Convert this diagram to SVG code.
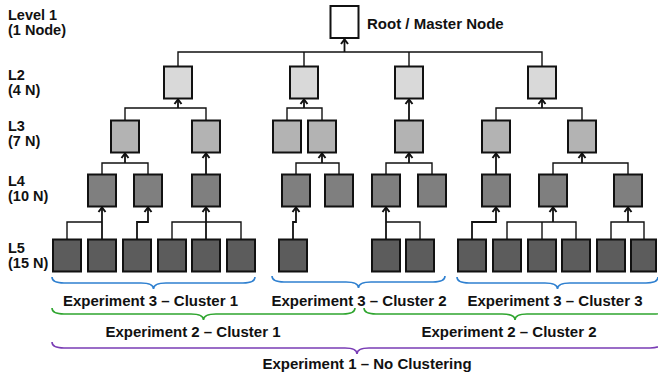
<svg xmlns="http://www.w3.org/2000/svg" width="658" height="376" viewBox="0 0 658 376">
  <style>
    text { font-family: "Liberation Sans", Arial, Helvetica, sans-serif; font-weight: bold; font-size: 15px; fill: #111; }
    .lvl { font-size: 14.5px; }
    .box { stroke: #111; stroke-width: 2; }
    .root { fill: #ffffff; }
    .l2 { fill: #d9d9d9; }
    .l3 { fill: #b3b3b3; }
    .l4 { fill: #7f7f7f; }
    .l5 { fill: #5c5c5c; }
    .wire { fill: none; stroke: #111; stroke-width: 1.4; }
    .up { fill: none; stroke: #111; stroke-width: 1.8; marker-end: url(#chev); }
    .brace { fill: none; stroke-width: 1.6; }
    .b3 { stroke: #2f80d0; }
    .b2 { stroke: #2fa52f; }
    .b1 { stroke: #7a3db5; }
  </style>
  <defs>
    <marker id="chev" markerUnits="userSpaceOnUse" markerWidth="10" markerHeight="10" refX="5" refY="3.5" orient="auto" overflow="visible">
      <path d="M0.5,0 L5,3.5 L0.5,7" fill="none" stroke="#111" stroke-width="2"/>
    </marker>
  </defs>

  <!-- level captions -->
  <g id="captions">
    <text class="lvl" x="8" y="20">Level 1</text>
    <text class="lvl" x="8" y="35">(1 Node)</text>
    <text class="lvl" x="8" y="80">L2</text>
    <text class="lvl" x="8" y="95">(4 N)</text>
    <text class="lvl" x="8" y="131">L3</text>
    <text class="lvl" x="8" y="146">(7 N)</text>
    <text class="lvl" x="8" y="186">L4</text>
    <text class="lvl" x="8" y="201">(10 N)</text>
    <text class="lvl" x="8" y="253">L5</text>
    <text class="lvl" x="8" y="268">(15 N)</text>
  </g>

  <!-- connectors -->
  <g id="connectors">
    <!-- root bus -->
    <path class="wire" d="M178,66 V52 H542 V66 M304,52 V66 M409,52 V66"/>
    <path class="up" d="M344.5,52 V39.5"/>
    <!-- L2 to L3 -->
    <path class="wire" d="M125,120 V108 H206 V120"/>
    <path class="up" d="M178,108 V99.5"/>
    <path class="wire" d="M287,120 V108 H322 V120"/>
    <path class="up" d="M304,108 V99.5"/>
    <path class="up" d="M409,120 V99.5"/>
    <path class="wire" d="M496,120 V108 H582 V120"/>
    <path class="up" d="M542,108 V99.5"/>
    <!-- L3 to L4 -->
    <path class="wire" d="M102,174 V163 H148 V174"/>
    <path class="up" d="M125,163 V153.5"/>
    <path class="up" d="M206,174 V153.5"/>
    <path class="wire" d="M296,174 V163 H339 V174"/>
    <path class="up" d="M322,163 V153.5"/>
    <path class="wire" d="M386,174 V163 H432 V174"/>
    <path class="up" d="M409,163 V153.5"/>
    <path class="up" d="M496,174 V153.5"/>
    <path class="wire" d="M553,174 V163 H628 V174"/>
    <path class="up" d="M582,163 V153.5"/>
    <!-- L4 to L5 -->
    <path class="wire" d="M67,239 V222 H102"/>
    <path class="up" d="M102,239 V207.5"/>
    <path class="up" d="M137,239 V222 H148 V207.5"/>
    <path class="wire" d="M172,239 V222 H241 V239"/>
    <path class="up" d="M206,239 V207.5"/>
    <path class="up" d="M293,239 V222 H296 V207.5"/>
    <path class="wire" d="M420,239 V222 H386"/>
    <path class="up" d="M386,239 V207.5"/>
    <path class="up" d="M472,239 V222 H496 V207.5"/>
    <path class="wire" d="M507,239 V222 H576 V239 M542,222 V239"/>
    <path class="up" d="M553,222 V207.5"/>
    <path class="wire" d="M611,239 V222 H644 V239"/>
    <path class="up" d="M628,222 V207.5"/>
  </g>

  <!-- level 1 -->
  <g id="root">
    <rect class="box root" x="330.5" y="6" width="28" height="32"/>
    <text x="367" y="29">Root / Master Node</text>
  </g>

  <!-- level 2 -->
  <g id="l2-1"><rect class="box l2" x="164" y="66.5" width="28" height="32"/></g>
  <g id="l2-2"><rect class="box l2" x="290" y="66.5" width="28" height="32"/></g>
  <g id="l2-3"><rect class="box l2" x="395" y="66.5" width="28" height="32"/></g>
  <g id="l2-4"><rect class="box l2" x="528" y="66.5" width="28" height="32"/></g>

  <!-- level 3 -->
  <g id="l3-1"><rect class="box l3" x="111" y="120.5" width="28" height="32"/></g>
  <g id="l3-2"><rect class="box l3" x="192" y="120.5" width="28" height="32"/></g>
  <g id="l3-3"><rect class="box l3" x="273" y="120.5" width="28" height="32"/></g>
  <g id="l3-4"><rect class="box l3" x="308" y="120.5" width="28" height="32"/></g>
  <g id="l3-5"><rect class="box l3" x="395" y="120.5" width="28" height="32"/></g>
  <g id="l3-6"><rect class="box l3" x="482" y="120.5" width="28" height="32"/></g>
  <g id="l3-7"><rect class="box l3" x="568" y="120.5" width="28" height="32"/></g>

  <!-- level 4 -->
  <g id="l4-1"><rect class="box l4" x="88" y="174.5" width="28" height="32"/></g>
  <g id="l4-2"><rect class="box l4" x="134" y="174.5" width="28" height="32"/></g>
  <g id="l4-3"><rect class="box l4" x="192" y="174.5" width="28" height="32"/></g>
  <g id="l4-4"><rect class="box l4" x="282" y="174.5" width="28" height="32"/></g>
  <g id="l4-5"><rect class="box l4" x="325" y="174.5" width="28" height="32"/></g>
  <g id="l4-6"><rect class="box l4" x="372" y="174.5" width="28" height="32"/></g>
  <g id="l4-7"><rect class="box l4" x="418" y="174.5" width="28" height="32"/></g>
  <g id="l4-8"><rect class="box l4" x="482" y="174.5" width="28" height="32"/></g>
  <g id="l4-9"><rect class="box l4" x="539" y="174.5" width="28" height="32"/></g>
  <g id="l4-10"><rect class="box l4" x="614" y="174.5" width="28" height="32"/></g>

  <!-- level 5 -->
  <g id="l5-1"><rect class="box l5" x="53" y="239.5" width="28" height="32"/></g>
  <g id="l5-2"><rect class="box l5" x="88" y="239.5" width="28" height="32"/></g>
  <g id="l5-3"><rect class="box l5" x="123" y="239.5" width="28" height="32"/></g>
  <g id="l5-4"><rect class="box l5" x="158" y="239.5" width="28" height="32"/></g>
  <g id="l5-5"><rect class="box l5" x="192" y="239.5" width="28" height="32"/></g>
  <g id="l5-6"><rect class="box l5" x="227" y="239.5" width="28" height="32"/></g>
  <g id="l5-7"><rect class="box l5" x="279" y="239.5" width="28" height="32"/></g>
  <g id="l5-8"><rect class="box l5" x="372" y="239.5" width="28" height="32"/></g>
  <g id="l5-9"><rect class="box l5" x="406" y="239.5" width="28" height="32"/></g>
  <g id="l5-10"><rect class="box l5" x="458" y="239.5" width="28" height="32"/></g>
  <g id="l5-11"><rect class="box l5" x="493" y="239.5" width="28" height="32"/></g>
  <g id="l5-12"><rect class="box l5" x="528" y="239.5" width="28" height="32"/></g>
  <g id="l5-13"><rect class="box l5" x="562" y="239.5" width="28" height="32"/></g>
  <g id="l5-14"><rect class="box l5" x="597" y="239.5" width="28" height="32"/></g>
  <g id="l5-15"><rect class="box l5" x="631" y="239.5" width="25" height="32"/></g>

  <!-- grouping braces with their captions -->
  <g id="exp3-c1">
    <path class="brace b3" d="M52,277 C52,281 55,283 64,283 H141 C149,283 153.5,285 153.5,289 C153.5,285 158,283 166,283 H243 C252,283 255,281 255,277"/>
    <text x="150.5" y="306" text-anchor="middle">Experiment 3 – Cluster 1</text>
  </g>
  <g id="exp3-c2">
    <path class="brace b3" d="M272,276 C272,280 275,282 284,282 H346 C354,282 358.5,284 358.5,288 C358.5,284 363,282 371,282 H433 C442,282 445,280 445,276"/>
    <text x="359" y="306" text-anchor="middle">Experiment 3 – Cluster 2</text>
  </g>
  <g id="exp3-c3">
    <path class="brace b3" d="M457,277 C457,281 460,283 469,283 H545 C553,283 557.5,285 557.5,289 C557.5,285 562,283 570,283 H646 C655,283 658,281 658,277"/>
    <text x="555" y="306" text-anchor="middle">Experiment 3 – Cluster 3</text>
  </g>
  <g id="exp2-c1">
    <path class="brace b2" d="M52,308 C52,312 55,314 64,314 H191 C199,314 203.5,316 203.5,320 C203.5,316 208,314 216,314 H343 C352,314 355,312 355,308"/>
    <text x="193" y="337" text-anchor="middle">Experiment 2 – Cluster 1</text>
  </g>
  <g id="exp2-c2">
    <path class="brace b2" d="M364,308 C364,312 367,314 376,314 H502 C510,314 515,316 515,320 C515,316 519,314 527,314 H654 C663,314 666,312 666,308"/>
    <text x="509" y="337" text-anchor="middle">Experiment 2 – Cluster 2</text>
  </g>
  <g id="exp1">
    <path class="brace b1" d="M52,342 C52,346 55,348 64,348 H345 C353,348 357,350 357,354 C357,350 361,348 369,348 H650 C659,348 662,346 662,342"/>
    <text x="367" y="369" text-anchor="middle">Experiment 1 – No Clustering</text>
  </g>
</svg>
